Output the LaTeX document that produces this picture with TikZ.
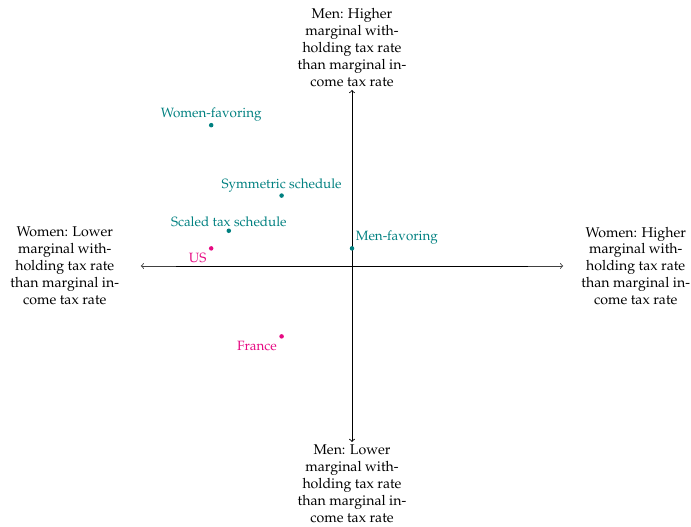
\documentclass[tikz,border=0pt]{standalone}
\usepackage[T1]{fontenc}
\usepackage{mathpazo}
\definecolor{tealc}{RGB}{0,128,128}
\definecolor{pinkc}{RGB}{230,10,130}
\tikzset{
  axis/.style={line width=0.6pt, black},
  axlabel/.style={align=center, font=\normalsize, inner sep=2pt},
  ptfont/.style={font=\fontsize{9.5}{11}\selectfont},
  dotpt/.style={circle, fill, inner sep=0pt, minimum size=3.2pt},
  tealpt/.style={dotpt, tealc},
  pinkpt/.style={dotpt, pinkc},
  tlab/.style={ptfont, text=tealc, yshift=-2.8pt},
}
\begin{document}
\begin{tikzpicture}[x=1.75cm, y=1.75cm]
\useasboundingbox (-5.0,-3.707) rectangle (4.815,3.778);
% axes
\coordinate (L) at (-3,0);
\coordinate (R) at (3,0);
\coordinate (Lin) at (-2.5,0);
\coordinate (Rin) at (2.5,0);
\coordinate (T) at (0,2.5);
\coordinate (B) at (0,-2.5);
\draw[axis, black!75, <->] (L) -- (R);
\draw[axis] (Lin) -- (Rin);
\draw[axis, <->] (B) -- (T);
% axis labels
\node[axlabel, anchor=south] (top) at (T) {Men: Higher\\marginal with-\\holding tax rate\\than marginal in-\\come tax rate};
\node[axlabel, anchor=north] (bot) at (B) {Men: Lower\\marginal with-\\holding tax rate\\than marginal in-\\come tax rate};
\node[axlabel] (left) at (-4.08,0) {Women: Lower\\marginal with-\\holding tax rate\\than marginal in-\\come tax rate};
\node[axlabel] (right) at (4.03,0) {Women: Higher\\marginal with-\\holding tax rate\\than marginal in-\\come tax rate};
% points
\node[tealpt, label={[tlab]above:Women-favoring}] (wf) at (-2,2) {};
\node[tealpt, label={[tlab]above:Symmetric schedule}] (sym) at (-1,1) {};
\node[tealpt, label={[tlab]above:Scaled tax schedule}] (sc) at (-1.75,0.5) {};
\node[tealpt, label={[ptfont, text=tealc, label distance=-3pt]above right:Men-favoring}] (mf) at (0,0.25) {};
\node[pinkpt, label={[ptfont, text=pinkc, label distance=-2pt]below left:US}] (us) at (-2,0.25) {};
\node[pinkpt, label={[ptfont, text=pinkc, label distance=-2pt]below left:France}] (fr) at (-1,-1) {};
\end{tikzpicture}
\end{document}
